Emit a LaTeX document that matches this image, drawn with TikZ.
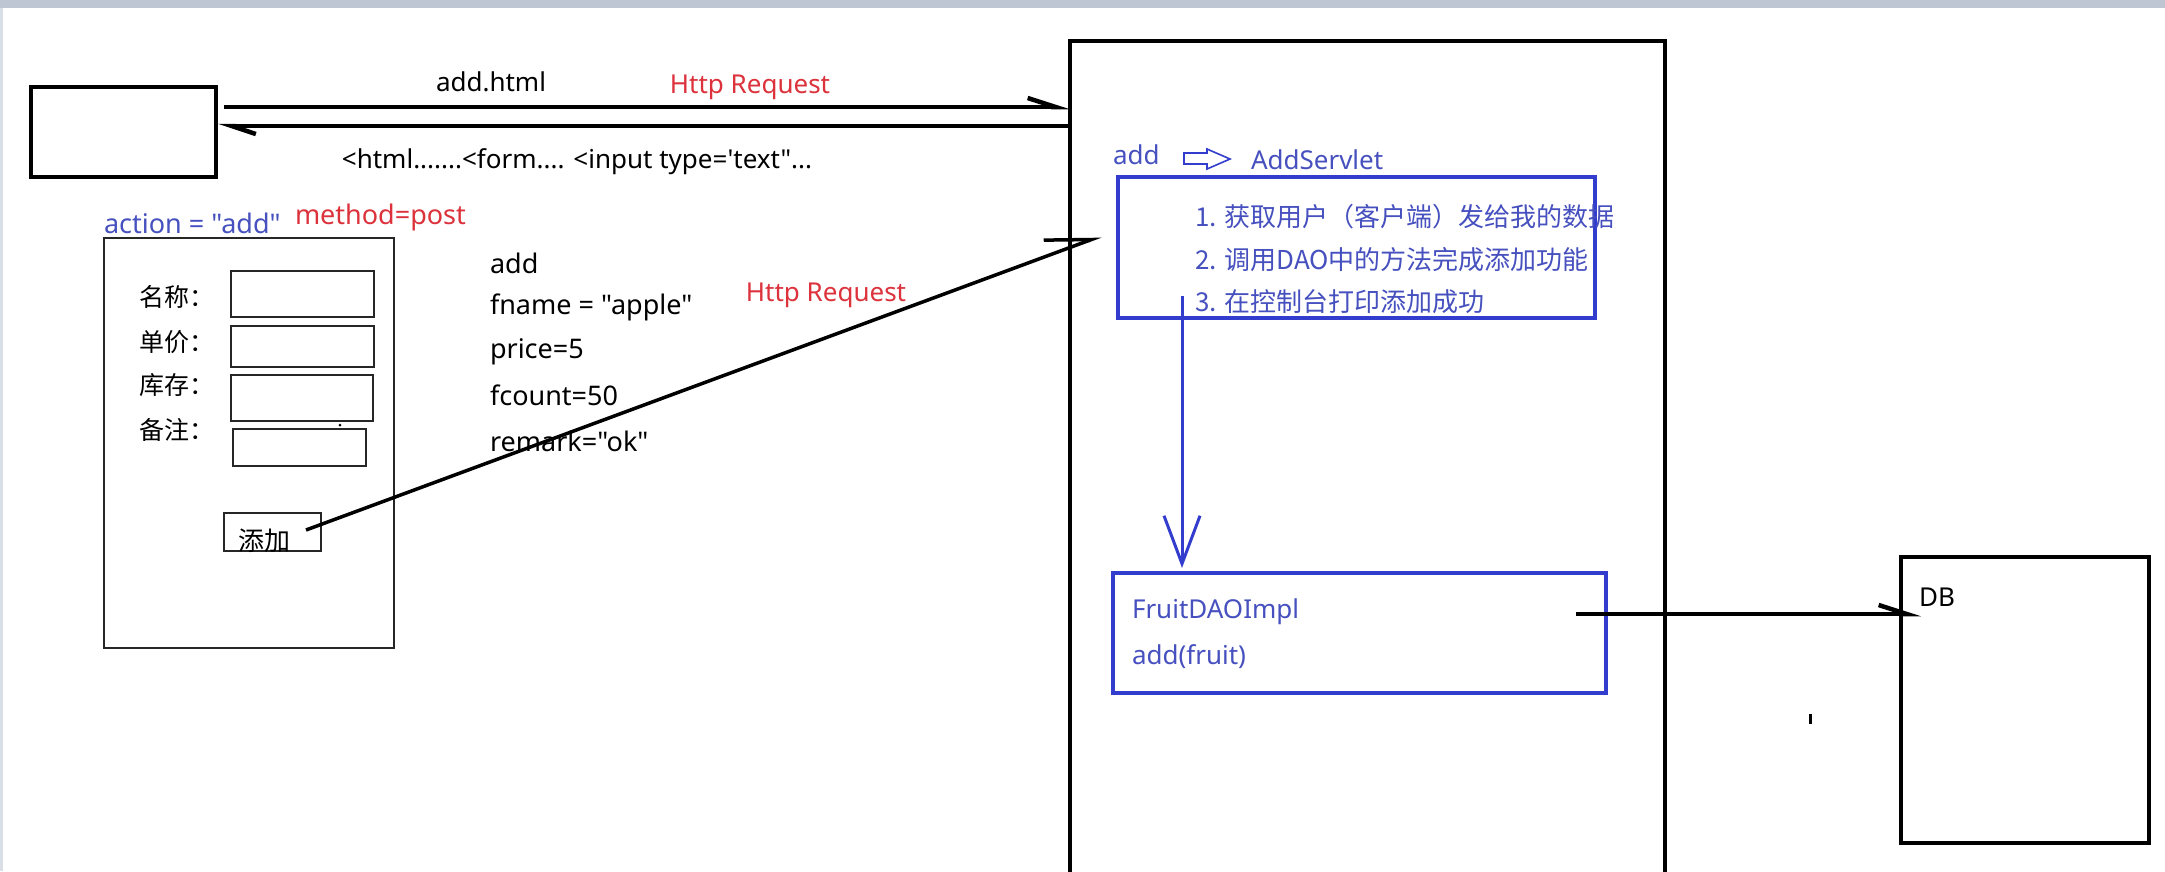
\documentclass[tikz,border=0pt]{standalone}
\usepackage{fontspec}
\setmainfont{Noto Sans}[Ligatures=TeXOff]
\newfontfamily\cjkf{Noto Sans CJK SC}[Ligatures=TeXOff]
\usetikzlibrary{arrows.meta}
\definecolor{bx}{RGB}{50,60,205}
\definecolor{bt}{RGB}{70,80,190}
\definecolor{rd}{RGB}{220,50,60}
\definecolor{topbar}{RGB}{190,198,212}
\definecolor{edgegray}{RGB}{218,222,230}
\newcommand\mylat{\fontsize{26}{30}\selectfont}
\newcommand\mypar{\fontsize{27}{30}\selectfont}
\newcommand\mycjk{\cjkf\fontsize{26}{30}\selectfont}
\newcommand\mylab{\cjkf\fontsize{25}{28}\selectfont}
\begin{document}
\begin{tikzpicture}[x=1pt,y=-1pt,
  every node/.style={inner sep=0pt, outer sep=0pt},
  bbox/.style={draw=black, line width=4.5pt},
  fbox/.style={draw=black!85, line width=2pt},
  blbox/.style={draw=bx, line width=4pt},
  lt/.style={font=\mylat, text=black},
  pr/.style={font=\mypar, text=black, anchor=west},
  rt/.style={font=\mylat, text=rd},
  btxt/.style={font=\mylat, text=bt, anchor=west},
  bcj/.style={font=\mycjk, text=bt, anchor=west},
  lab/.style={font=\mylab, text=black, anchor=west},
  harr/.style={line width=4.5pt, -{Straight Barb[harpoon, length=28pt, width=18pt]}},
  harrb/.style={line width=4.5pt, -{Straight Barb[harpoon, length=24pt, width=16pt]}},
  diag/.style={line width=3.5pt, -{Straight Barb[harpoon, length=45pt, width=32pt]}},
  varr/.style={draw=bx, line width=3pt, -{Straight Barb[length=48pt, width=36pt]}}
]
\useasboundingbox (0,0) rectangle (2165,871);
\fill[white] (0,0) rectangle (2165,871);
\fill[topbar] (0,0) rectangle (2165,8);
\fill[edgegray] (0,8) rectangle (3,871);

% browser and servlet container
\node[bbox, minimum width=185pt, minimum height=90pt] (browser) at (123.5,132) {};
\node[bbox, line width=4pt, minimum width=595pt, minimum height=879pt] (servlet) at (1367.5,480.5) {};

% request / response
\coordinate (reqS) at (224,107);
\coordinate (respS) at (1068,126);
\coordinate (respE) at (218,126);
\draw[harr] (reqS) -- (servlet.west |- reqS);
\draw[harrb] (respS) -- (respE);
\node[lt] (addhtml) at (491,82) {add.html};
\node[rt] (http1) at (750,87) {Http Request};
\node[lt] (htmltxt) at (577,162) {<html.......<form.... <input type='text"...};

% form
\node[btxt, font=\fontsize{27}{30}\selectfont] (action) at (104,223) {action = "add"};
\node[rt, anchor=west, font=\fontsize{27}{30}\selectfont] (method) at (295,217) {method=post};
\node[fbox, minimum width=290pt, minimum height=410pt] (form) at (249,443) {};
\node[lab] (l1) at (139,297) {名称：};
\node[lab] (l2) at (139,342) {单价：};
\node[lab] (l3) at (139,385) {库存：};
\node[lab] (l4) at (139,430) {备注：};
\node[fbox, minimum width=143pt, minimum height=46pt] (in1) at (302.5,294) {};
\node[fbox, minimum width=143pt, minimum height=41pt] (in2) at (302.5,346.5) {};
\node[fbox, minimum width=142pt, minimum height=46pt] (in3) at (302,398) {};
\node[fbox, minimum width=133pt, minimum height=37pt] (in4) at (299.5,447.5) {};
\fill (340,425) circle (1.5pt);
\node[fbox, minimum width=97pt, minimum height=38pt] (btn) at (272.5,532) {};
\node[font=\mycjk] (btnlbl) at (264,541) {添加};

% parameters
\node[pr] (p1) at (490,263) {add};
\node[pr] (p2) at (490,307) {fname = "apple"};
\node[pr] (p3) at (490,352) {price=5};
\node[pr] (p4) at (490,395) {fcount=50};
\node[pr] (p5) at (490,441) {remark="ok"};
\node[rt] (http2) at (826,295) {Http Request};

% submit arrow
\coordinate (dS) at (306,530);
\coordinate (dE) at (1101,236);
\draw[diag] (dS) -- (dE);

% servlet content
\node[btxt] (addlbl) at (1113,155) {add};
\draw[bx, line width=1.6pt, line join=miter] (1184,153) -- (1207,153) -- (1207,149) -- (1230,159) -- (1207,169) -- (1207,164) -- (1184,164) -- cycle;
\node[btxt] (addservlet) at (1251,160) {AddServlet};
\node[blbox, minimum width=477pt, minimum height=141pt] (svbox) at (1356.5,247.5) {};
\node[bcj] (s1) at (1195,217) {1. 获取用户（客户端）发给我的数据};
\node[bcj] (s2) at (1195,260) {2. 调用DAO中的方法完成添加功能};
\node[bcj] (s3) at (1195,302) {3. 在控制台打印添加成功};

\node[blbox, minimum width=493pt, minimum height=120pt] (dao) at (1359.5,633) {};
\node[btxt] (dao1) at (1132,612) {FruitDAOImpl};
\node[btxt] (dao2) at (1132,657) {add(fruit)};
\coordinate (vS) at (1182,296);
\coordinate (vE) at (1182,568);
\draw[varr] (vS) -- (vE);

% DB
\node[bbox, line width=4pt, minimum width=248pt, minimum height=286pt] (db) at (2025,700) {};
\node[lt, anchor=west] (dblbl) at (1919,597) {DB};
\coordinate (dbS) at (1576,614);
\coordinate (dbE) at (1921,614);
\draw[harr] (dbS) -- (dbE);
\fill (1809,714) rectangle (1812,724);
\end{tikzpicture}
\end{document}
